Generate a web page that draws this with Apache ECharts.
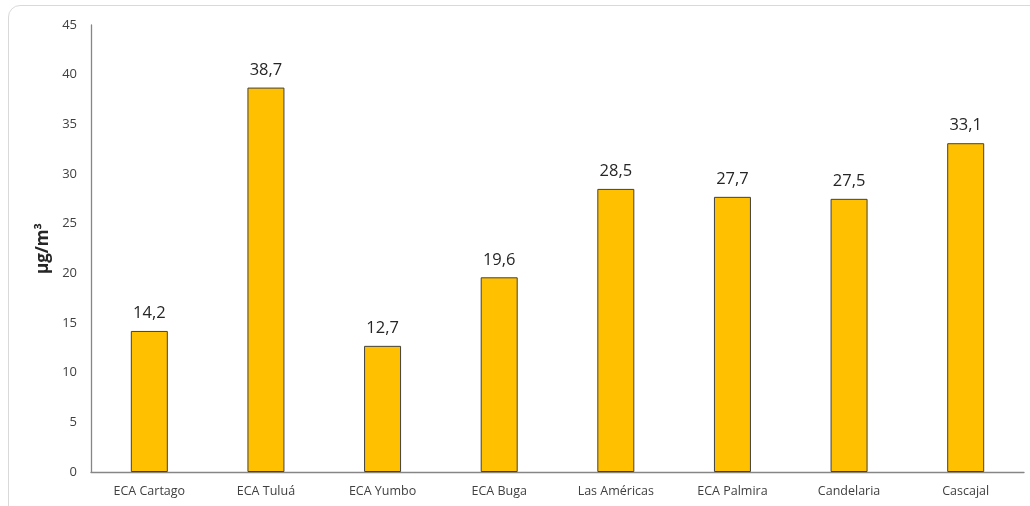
<!DOCTYPE html>
<html>
<head>
<meta charset="utf-8">
<script src="https://cdn.jsdelivr.net/npm/echarts@6/dist/echarts.min.js"></script>
<style>
html,body{margin:0;padding:0;background:#fff;overflow:hidden;}
#frame{position:absolute;left:8px;top:5px;width:1060px;height:540px;border:1px solid #d9d9d9;border-radius:12px;box-sizing:border-box;}
#chart{position:absolute;left:0;top:0;width:1030px;height:506px;}
</style>
</head>
<body>
<div id="frame"></div>
<div id="chart"></div>
<script>
const categories = ['ECA Cartago','ECA Tuluá','ECA Yumbo','ECA Buga','Las Américas','ECA Palmira','Candelaria','Cascajal'];
const values = [14.2, 38.7, 12.7, 19.6, 28.5, 27.7, 27.5, 33.1];
const yTicks = {min: 0, max: 45, interval: 5};
const yName = 'µg/m³';

const chart = echarts.init(document.getElementById('chart'), null, {renderer: 'canvas'});
const font = '"Open Sans", "Noto Sans", sans-serif';
chart.setOption({
  animation: false,
  grid: {left: 91, right: 6, top: 25, bottom: 34},
  xAxis: {
    type: 'category',
    data: categories,
    axisLine: {lineStyle: {color: '#868686', width: 1.3}},
    axisTick: {show: false},
    axisLabel: {color: '#404040', fontSize: 12.5, fontFamily: font, margin: 13}
  },
  yAxis: {
    type: 'value',
    min: yTicks.min, max: yTicks.max, interval: yTicks.interval,
    name: yName,
    nameLocation: 'middle',
    nameGap: 38,
    nameTextStyle: {color: '#262626', fontSize: 17, fontWeight: 'bold', fontFamily: font},
    axisLine: {show: true, lineStyle: {color: '#868686', width: 1.3}},
    axisTick: {show: false},
    splitLine: {show: false},
    axisLabel: {color: '#404040', fontSize: 13, fontFamily: font, margin: 14}
  },
  series: [{
    type: 'bar',
    data: values,
    barWidth: 37,
    itemStyle: {color: '#FFC000', borderColor: '#404040', borderWidth: 1},
    label: {
      show: true, position: 'top', distance: 9,
      color: '#262626', fontSize: 16.5, fontFamily: font,
      formatter: p => p.value.toFixed(1).replace('.', ',')
    }
  }]
});
</script>
</body>
</html>
